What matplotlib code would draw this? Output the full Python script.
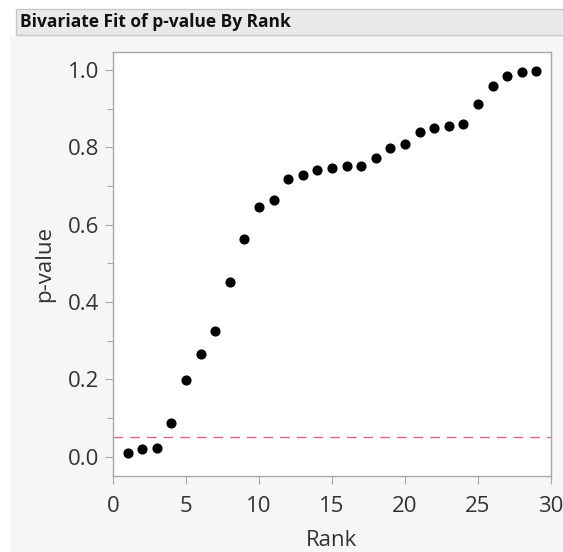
import numpy as np
import matplotlib.pyplot as plt
from matplotlib.patches import Rectangle
from matplotlib.ticker import MultipleLocator

# Data
rank = list(range(1, 30))
p_value = [0.009, 0.019, 0.023, 0.086, 0.199, 0.266, 0.326, 0.453, 0.564, 0.645,
           0.663, 0.719, 0.728, 0.741, 0.746, 0.751, 0.751, 0.773, 0.799, 0.808,
           0.840, 0.850, 0.856, 0.860, 0.913, 0.959, 0.985, 0.995, 0.999]
alpha = 0.05
title = "Bivariate Fit of p-value By Rank"

plt.rcParams['font.family'] = ['Open Sans', 'DejaVu Sans']

W, H = 563, 552
fig = plt.figure(figsize=(W / 100, H / 100), dpi=100)
fig.patch.set_facecolor('white')

# gray report panel and header bar
fig.patches.append(Rectangle((10 / W, 0), 1, 1 - 36 / H, transform=fig.transFigure,
                             facecolor='#f6f6f6', edgecolor='none', zorder=-2))
fig.patches.append(Rectangle((16 / W, 1 - 35 / H), 1, 26 / H, transform=fig.transFigure,
                             facecolor='#e9e9e9', edgecolor='#c8c8c8', lw=1, zorder=-1))
fig.text(20 / W, 1 - 22 / H, title, fontsize=12.5, fontweight='bold',
         va='center', ha='left', color='#111111')

# plot area
ax = fig.add_axes([113 / W, 1 - 476 / H, (551 - 113) / W, (476 - 52) / H])
ax.set_facecolor('white')
ax.plot(rank, p_value, 'o', color='black', markersize=6.3, zorder=3)
ax.axhline(alpha, linestyle=(0, (7, 5)), color='#dc6a7c', lw=1, zorder=2)

ax.set_xlim(0, 30)
ax.set_ylim(-0.05, 1.047)
ax.xaxis.set_major_locator(MultipleLocator(5))
ax.yaxis.set_major_locator(MultipleLocator(0.2))
ax.yaxis.set_minor_locator(MultipleLocator(0.1))
ax.yaxis.set_major_formatter(lambda v, pos: f"{v:.1f}")

for s in ax.spines.values():
    s.set_color('#a8a8a8')
    s.set_linewidth(1)

ax.tick_params(axis='both', which='major', length=6, width=0.8, color='#a8a8a8',
               labelsize=16, labelcolor='#333333')
ax.tick_params(axis='x', which='major', pad=8.5)
ax.tick_params(axis='y', which='major', pad=4)
ax.tick_params(axis='y', which='minor', length=4, width=0.8, color='#a8a8a8')

ax.set_xlabel("Rank", fontsize=16, color='#333333', labelpad=9.5)
ax.set_ylabel("p-value", fontsize=16, color='#333333', labelpad=9)

fig.savefig("out.png", dpi=100, facecolor=fig.get_facecolor())
